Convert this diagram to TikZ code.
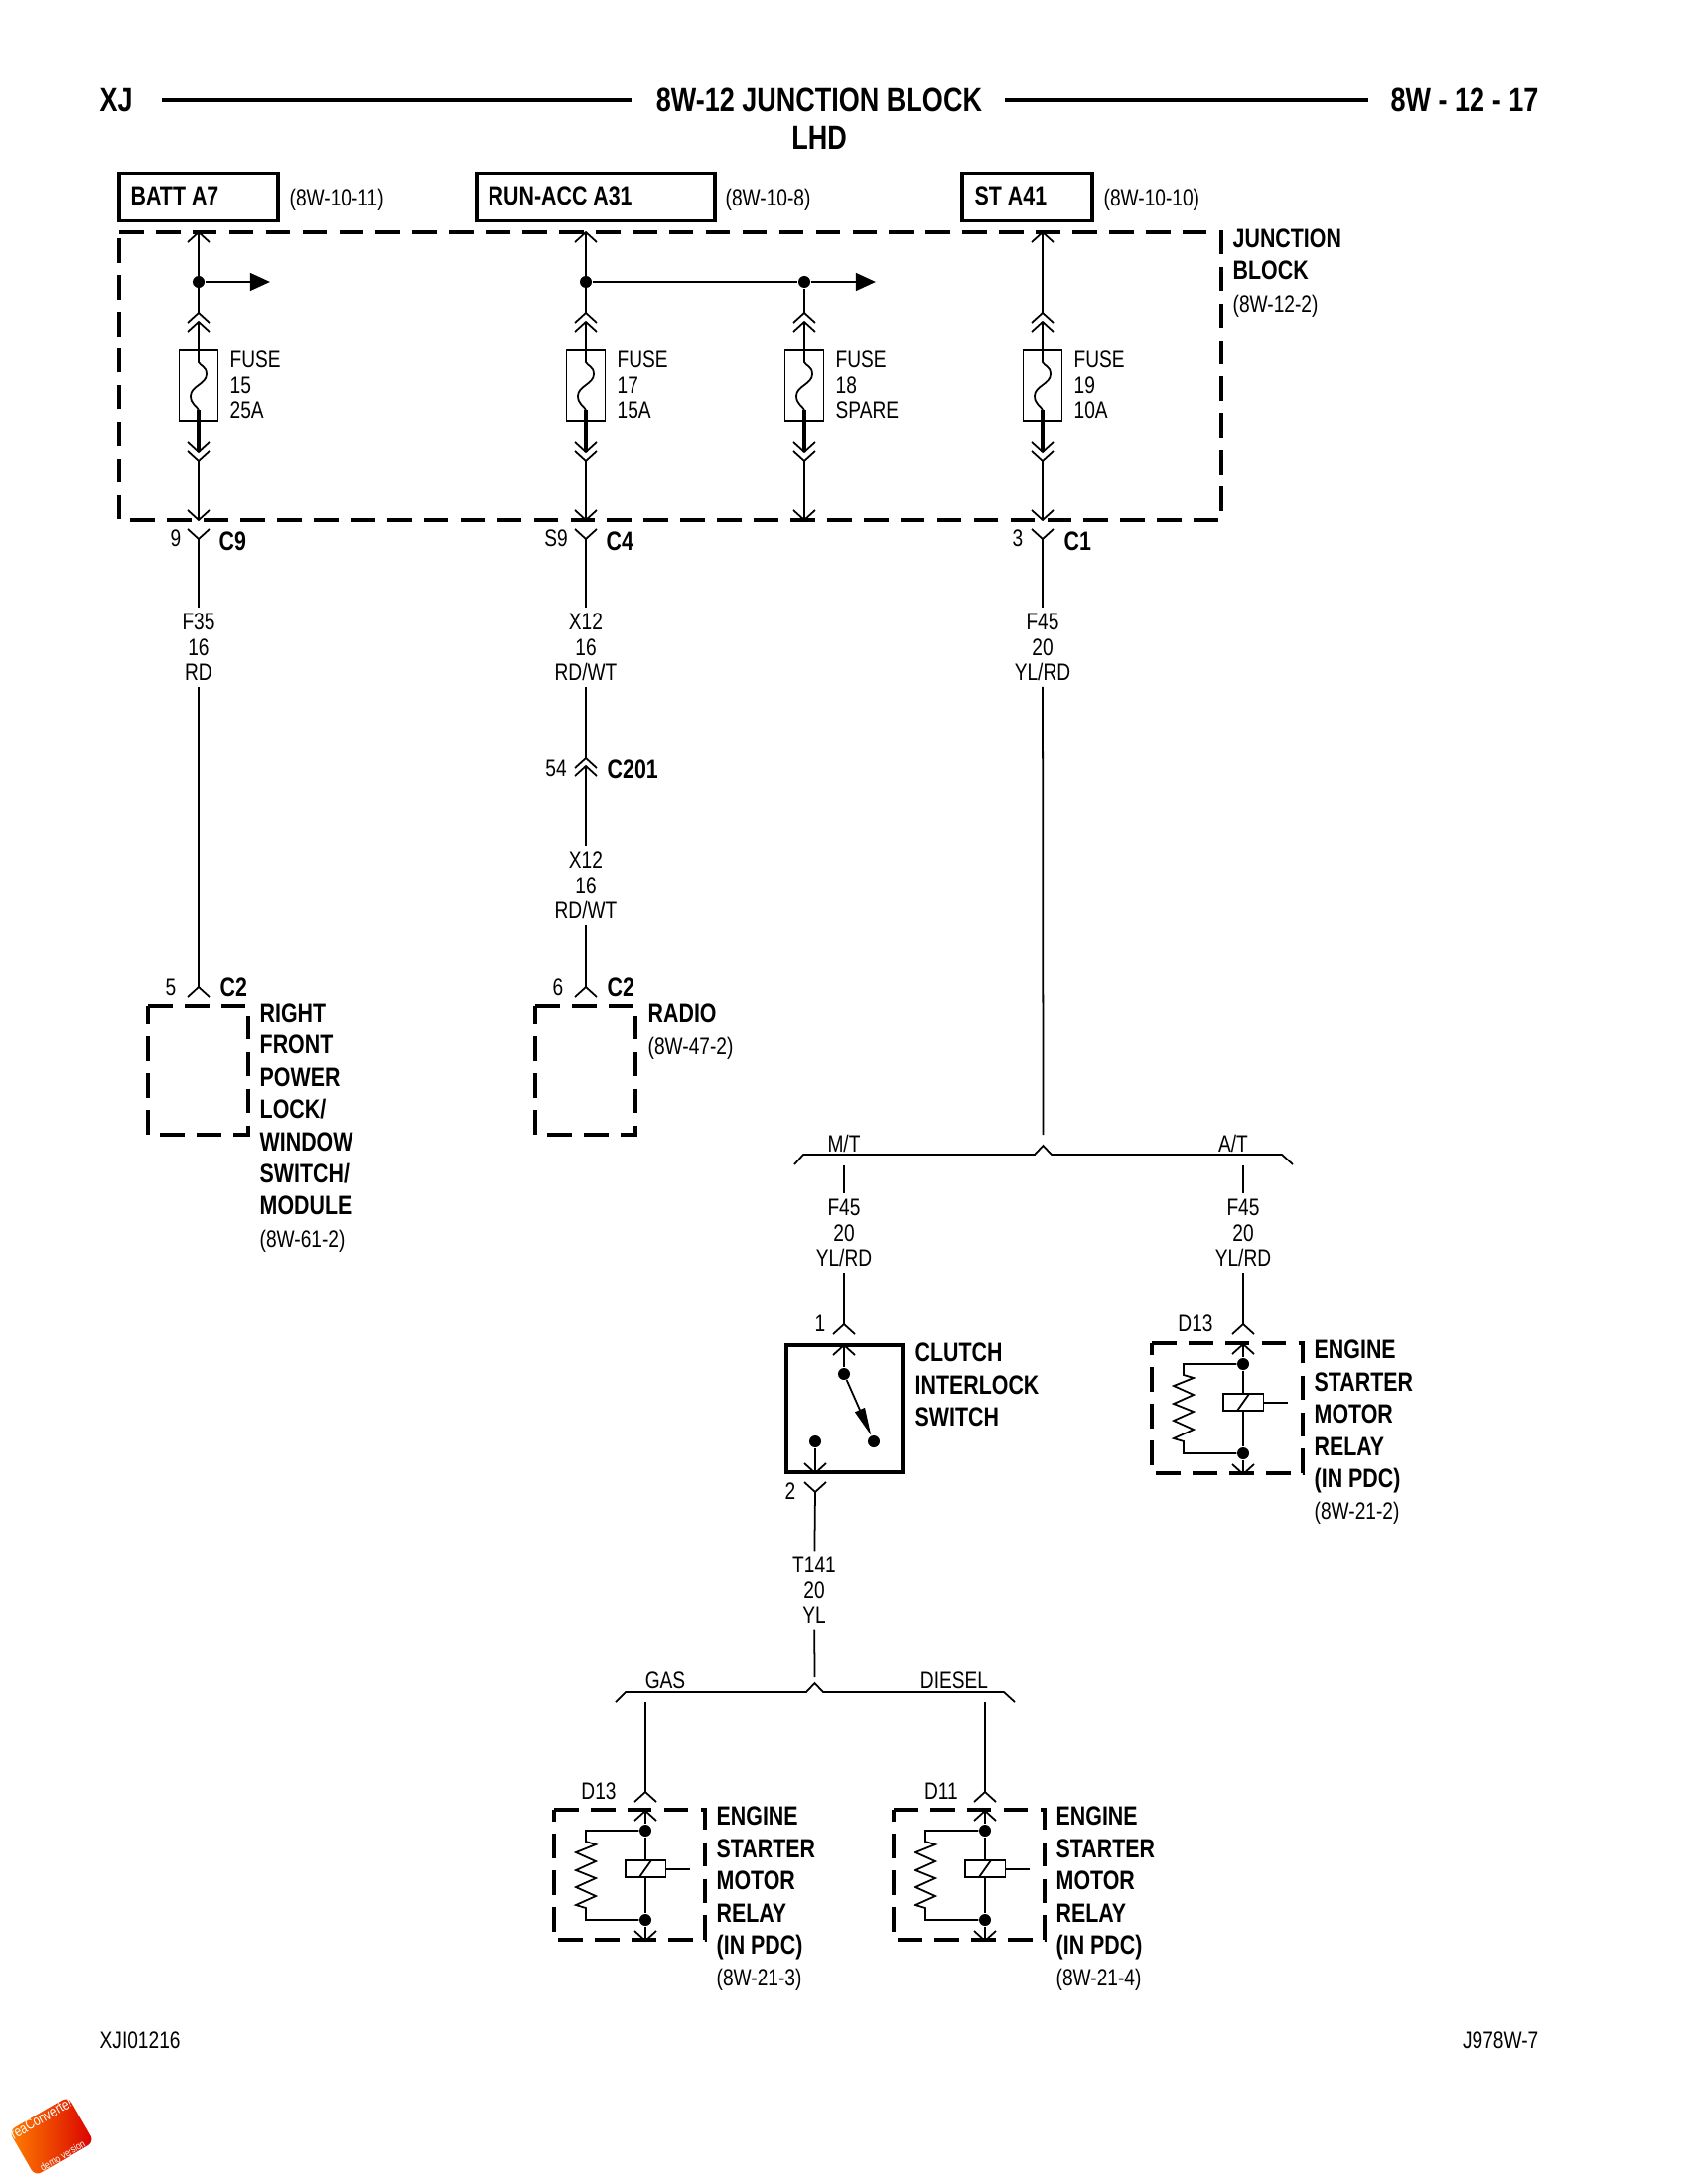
\documentclass[tikz,border=0pt]{standalone}
\usepackage{fontspec}
\usepackage{tikz}
\usetikzlibrary{arrows.meta,shadings}
\setmainfont{Liberation Sans}[FakeStretch=0.8]
\newcommand{\thinsize}{\fontsize{6.8}{7.25}\selectfont}
\newcommand{\refsize}{\fontsize{6.8}{9.2}\selectfont}
\newcommand{\heavysize}{\fontsize{7.6}{9.2}\selectfont\bfseries}
\newcommand{\titlesize}{\fontsize{9.6}{10.8}\selectfont\bfseries}
\tikzset{
  wire/.style={line width=0.5pt},
  heavywire/.style={line width=1pt},
  dashbox/.style={line width=1pt,dash pattern=on 7pt off 3.5pt},
  srcbox/.style={draw,line width=1.1pt,minimum height=0.48cm,inner sep=0pt},
  dot/.style={circle,fill=black,inner sep=0pt,minimum size=0.12cm},
  wlabel/.style={align=center,inner sep=1.5pt,font=\thinsize},
  plain/.style={anchor=west,align=left,inner sep=0pt,font=\refsize},
  heavy/.style={anchor=west,align=left,inner sep=0pt,font=\heavysize},
  pin/.style={inner sep=0pt,font=\thinsize},
  pics/upchev/.style={code={\draw [wire] (-11,10) -- (0,0) -- (11,10);}},
  pics/downchev/.style={code={\draw [wire] (-11,-10) -- (0,0) -- (11,-10);}},
  pics/fuseline/.style={code={
    \coordinate (-top) at (0,0);
    \coordinate (-bot) at (0,209);
    \pic at (0,0) {upchev};
    \pic at (0,9) {upchev};
    \draw [wire] (-19.5,38) rectangle (19.5,109);
    \draw [wire] (0,9) -- (0,50) .. controls (2,54) and (8,54) .. (8,62)
      .. controls (8,72) and (-8,74) .. (-8,84) .. controls (-8,92) and (-2,94) .. (0,98);
    \draw [line width=0.9pt] (0,98) -- (0,140);
    \pic at (0,140) {downchev};
    \pic at (0,149) {downchev};
    \draw [wire] (0,149) -- (-bot);
    \pic at (0,209) {downchev};
  }},
  pics/relay/.style={code={
    \coordinate (-tl) at (-92,0);
    \coordinate (-br) at (60,131);
    \draw [dashbox] (-tl) -| (-br) -| cycle;
    \coordinate (-top) at (0,1);
    \coordinate (-bot) at (0,132);
    \node [dot] (-a) at (0,21) {};
    \node [dot] (-b) at (0,111) {};
    \pic at (-top) {upchev};
    \pic at (-bot) {downchev};
    \draw [wire] (-top) -- (-a);
    \draw [wire] (-b) -- (-bot);
    \draw [wire] (-a) -- (-b);
    \draw [wire,fill=white] (-20,51) rectangle (20.5,68);
    \draw [wire] (-6,68) -- (6,51);
    \draw [wire] (20.5,60) -- (45,60);
    \draw [wire] (-a) -- (-60,21) -- (-60,32) -- (-50,35) -- (-70,43) -- (-50,52) -- (-70,61)
      -- (-50,69) -- (-70,78) -- (-50,87) -- (-70,96) -- (-60,99) -- (-60,111) -- (-b);
  }},
}
\begin{document}
\begin{tikzpicture}[x=0.01cm,y=-0.01cm]
\useasboundingbox (0,0) rectangle (1700,2200);
\node [anchor=west,inner sep=0pt,font=\titlesize] (xj) at (100,101) {XJ};
\node [inner sep=0pt,font=\titlesize] (title) at (825,101) {8W-12 JUNCTION BLOCK};
\node [inner sep=0pt,font=\titlesize] (lhd) at (825,139) {LHD};
\node [anchor=east,inner sep=0pt,font=\titlesize] (page) at (1550,101) {8W - 12 - 17};
\coordinate (rulea) at (163,101);
\coordinate (ruleb) at (636,101);
\coordinate (rulec) at (1012,101);
\coordinate (ruled) at (1378,101);
\draw [heavywire] (rulea) -- (ruleb);
\draw [heavywire] (rulec) -- (ruled);

\node [srcbox,minimum width=1.6cm] (batt) at (200,198.5) {};
\node [heavy] (batttext) at (131,197) {BATT A7};
\node [plain] (battref) at (291,201) {(8W-10-11)};
\node [srcbox,minimum width=2.4cm] (runacc) at (600,198.5) {};
\node [heavy] (runacctext) at (491,197) {RUN-ACC A31};
\node [plain] (runaccref) at (730,201) {(8W-10-8)};
\node [srcbox,minimum width=1.31cm] (st) at (1034.5,198.5) {};
\node [heavy] (sttext) at (981,197) {ST A41};
\node [plain] (stref) at (1111,201) {(8W-10-10)};

\coordinate (blocktl) at (120,234);
\coordinate (blockbr) at (1230,524);
\draw [dashbox] (blocktl) -| (blockbr) -| cycle;
\node [heavy] (blocktext) at (1241,275) {JUNCTION\\BLOCK\\{\refsize\mdseries (8W-12-2)}};

\coordinate (batttop) at (200,234);
\coordinate (runtop) at (590,234);
\coordinate (sttop) at (1050,234);
\pic at (batttop) {upchev};
\pic at (runtop) {upchev};
\pic at (sttop) {upchev};
\pic (fuse15) at (200,315) {fuseline};
\pic (fuse17) at (590,315) {fuseline};
\pic (fuse18) at (810,315) {fuseline};
\pic (fuse19) at (1050,315) {fuseline};
\node [dot] (j15) at (200,284) {};
\node [dot] (j17) at (590,284) {};
\node [dot] (j18) at (810,284) {};
\coordinate (out15) at (272,284);
\coordinate (out18) at (882,284);
\draw [wire] (batttop) -- (fuse15-top);
\draw [wire] (runtop) -- (fuse17-top);
\draw [wire] (j18) -- (fuse18-top);
\draw [wire] (sttop) -- (fuse19-top);
\draw [line width=0.8pt,-{Triangle[length=5.7pt,width=5pt]}] (j15) -- (out15);
\draw [wire] (j17) -- (j18);
\draw [line width=0.8pt,-{Triangle[length=5.7pt,width=5pt]}] (j18) -- (out18);
\node [plain,font=\thinsize] (fuse15text) at (231,388) {FUSE\\15\\25A};
\node [plain,font=\thinsize] (fuse17text) at (621,388) {FUSE\\17\\15A};
\node [plain,font=\thinsize] (fuse18text) at (841,388) {FUSE\\18\\SPARE};
\node [plain,font=\thinsize] (fuse19text) at (1081,388) {FUSE\\19\\10A};

\coordinate (c9) at (200,543);
\coordinate (c4) at (590,543);
\coordinate (c1) at (1050,543);
\pic at (c9) {downchev};
\pic at (c4) {downchev};
\pic at (c1) {downchev};
\node [pin] (c9pin) at (177,542) {9};
\node [pin] (c4pin) at (560,542) {S9};
\node [pin] (c1pin) at (1025,542) {3};
\node [heavy] (c9text) at (220,545) {C9};
\node [heavy] (c4text) at (610,545) {C4};
\node [heavy] (c1text) at (1071,545) {C1};

\node [wlabel] (f35) at (200,652) {F35\\16\\RD};
\node [wlabel] (x12a) at (590,652) {X12\\16\\RD/WT};
\node [wlabel] (f45) at (1050,652) {F45\\20\\YL/RD};
\draw [wire] (c9) -- (f35);
\draw [wire] (c4) -- (x12a);
\draw [wire] (c1) -- (f45);

\coordinate (c201up) at (590,764);
\coordinate (c201low) at (590,772);
\pic at (c201up) {upchev};
\pic at (c201low) {upchev};
\node [pin] (c201pin) at (560,774) {54};
\node [heavy] (c201text) at (611,775) {C201};
\node [wlabel] (x12b) at (590,892) {X12\\16\\RD/WT};
\draw [wire] (x12a) -- (c201up);
\draw [wire] (c201low) -- (x12b);

\coordinate (lockc2) at (200,994);
\coordinate (radioc2) at (590,994);
\pic at (lockc2) {upchev};
\pic at (radioc2) {upchev};
\draw [wire] (f35) -- (lockc2);
\draw [wire] (x12b) -- (radioc2);
\node [pin] (lockpin) at (172,994) {5};
\node [pin] (radiopin) at (562,994) {6};
\node [heavy] (lockc2text) at (221,994) {C2};
\node [heavy] (radioc2text) at (611,994) {C2};
\coordinate (locktl) at (149,1013);
\coordinate (lockbr) at (250,1143);
\coordinate (radiotl) at (539,1013);
\coordinate (radiobr) at (640,1143);
\draw [dashbox] (locktl) -| (lockbr) -| cycle;
\draw [dashbox] (radiotl) -| (radiobr) -| cycle;
\node [heavy] (locktext) at (261,1136) {RIGHT\\FRONT\\POWER\\LOCK/\\WINDOW\\SWITCH/\\MODULE\\{\refsize\mdseries (8W-61-2)}};
\node [heavy] (radiotext) at (652,1039) {RADIO\\{\refsize\mdseries (8W-47-2)}};

\coordinate (split) at (1050.5,1143);
\coordinate (mtend) at (800,1173);
\coordinate (mta) at (809,1163);
\coordinate (mtb) at (1042,1163);
\coordinate (mtpeak) at (1050.5,1154);
\coordinate (atb) at (1059,1163);
\coordinate (ata) at (1291,1163);
\coordinate (atend) at (1302,1173);
\draw [wire] (f45) -- (split);
\draw [wire] (mtend) -- (mta) -- (mtb) -- (mtpeak) -- (atb) -- (ata) -- (atend);
\node [pin] (mt) at (850,1152) {M/T};
\node [pin] (at) at (1242,1152) {A/T};
\coordinate (mtwire) at (850,1174);
\coordinate (atwire) at (1252,1174);
\node [wlabel] (f45m) at (850,1242) {F45\\20\\YL/RD};
\node [wlabel] (f45a) at (1252,1242) {F45\\20\\YL/RD};
\draw [wire] (mtwire) -- (f45m);
\draw [wire] (atwire) -- (f45a);

\coordinate (sw1) at (850,1334);
\coordinate (rly1) at (1252,1334);
\pic at (sw1) {upchev};
\pic at (rly1) {upchev};
\draw [wire] (f45m) -- (sw1);
\draw [wire] (f45a) -- (rly1);
\node [pin] (sw1pin) at (826,1333) {1};
\node [pin] (d13a) at (1204,1333) {D13};

\node [draw,line width=1.1pt,minimum width=1.17cm,minimum height=1.28cm,inner sep=0pt] (switch) at (850.5,1419) {};
\coordinate (swtop) at (850,1355);
\coordinate (swbot) at (821,1484);
\node [dot] (swa) at (850,1384) {};
\node [dot] (swb) at (880,1452) {};
\node [dot] (swc) at (821,1452) {};
\pic at (swtop) {upchev};
\pic at (swbot) {downchev};
\draw [wire] (swtop) -- (swa);
\draw [wire] (swc) -- (swbot);
\draw [wire,-{Triangle[length=8pt,width=3pt]}] (swa) -- (swb);
\node [heavy] (swtext) at (921,1395) {CLUTCH\\INTERLOCK\\SWITCH};
\coordinate (sw2) at (821,1503);
\pic at (sw2) {downchev};
\node [pin] (sw2pin) at (796,1502) {2};
\node [wlabel] (t141) at (820,1602) {T141\\20\\YL};
\draw [wire] (sw2) -- (t141);

\pic (relaya) at (1252,1353) {relay};
\node [heavy] (relayatext) at (1323,1443) {ENGINE\\STARTER\\MOTOR\\RELAY\\(IN PDC)\\{\refsize\mdseries (8W-21-2)}};

\coordinate (gasstub) at (820.5,1689);
\coordinate (gasend) at (620,1714);
\coordinate (gasa) at (630,1704);
\coordinate (gasb) at (812,1704);
\coordinate (gaspeak) at (820.5,1695);
\coordinate (dslb) at (829,1704);
\coordinate (dsla) at (1011,1704);
\coordinate (dslend) at (1022,1714);
\draw [wire] (t141) -- (gasstub);
\draw [wire] (gasend) -- (gasa) -- (gasb) -- (gaspeak) -- (dslb) -- (dsla) -- (dslend);
\node [pin] (gas) at (670,1692) {GAS};
\node [pin] (diesel) at (961,1692) {DIESEL};
\coordinate (gaswire) at (650,1714);
\coordinate (dslwire) at (992,1714);
\coordinate (rly2) at (650,1805);
\coordinate (rly3) at (992,1805);
\pic at (rly2) {upchev};
\pic at (rly3) {upchev};
\draw [wire] (gaswire) -- (rly2);
\draw [wire] (dslwire) -- (rly3);
\node [pin] (d13b) at (603,1804) {D13};
\node [pin] (d11) at (948,1804) {D11};
\pic (relayb) at (650,1823) {relay};
\pic (relayc) at (992,1823) {relay};
\node [heavy] (relaybtext) at (721,1913) {ENGINE\\STARTER\\MOTOR\\RELAY\\(IN PDC)\\{\refsize\mdseries (8W-21-3)}};
\node [heavy] (relayctext) at (1063,1913) {ENGINE\\STARTER\\MOTOR\\RELAY\\(IN PDC)\\{\refsize\mdseries (8W-21-4)}};

\node [plain,font=\thinsize] (drawno) at (100,2055) {XJI01216};
\node [anchor=east,inner sep=0pt,font=\thinsize] (artno) at (1550,2055) {J978W-7};

\node [rotate=30,rounded corners=2pt,left color=orange,right color=red!85!black,minimum width=0.67cm,minimum height=0.42cm,inner sep=0pt,text=white,align=center] (stamp) at (52,2152)
  {{\fontsize{4.2}{4.6}\selectfont reaConverter}\\{\fontsize{3}{3.4}\selectfont demo version}};
\end{tikzpicture}
\end{document}
